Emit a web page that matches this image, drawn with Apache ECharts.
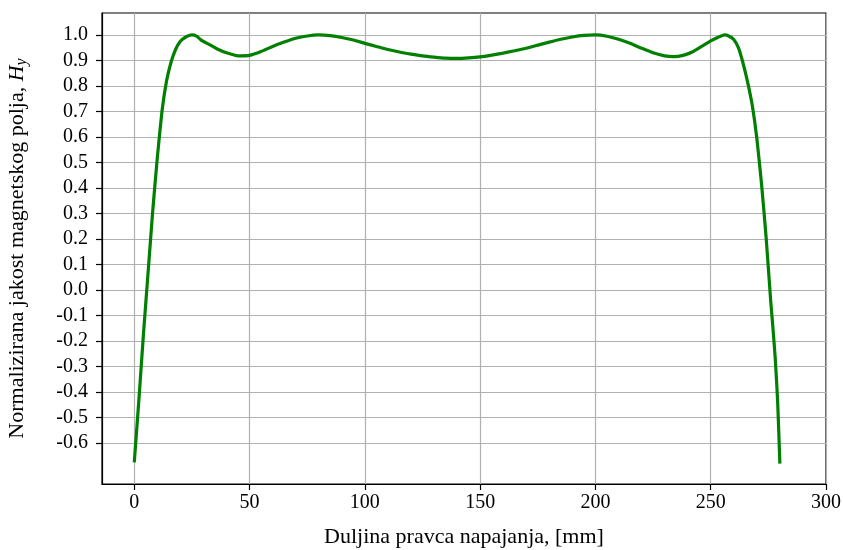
<!DOCTYPE html>
<html>
<head>
<meta charset="utf-8">
<script src="https://cdn.jsdelivr.net/npm/echarts@6/dist/echarts.min.js"></script>
<style>
  html, body { margin: 0; padding: 0; background: #fff; }
  #chart { width: 843px; height: 550px; }
</style>
</head>
<body>
<div id="chart"></div>
<script>
// polozaj duz pravca napajanja [mm]
var xPos = [0, 2, 4, 6, 8, 10, 12, 14, 16, 18, 20, 22, 25, 27, 29, 32, 36, 40, 45, 50,
  55, 60, 65, 70, 75, 80, 85, 90, 95, 100, 105, 110, 115, 120, 125, 130, 135, 140, 145, 150,
  155, 160, 165, 170, 175, 180, 185, 190, 195, 200, 205, 210, 215, 220, 225, 230, 234, 238, 242, 246,
  250, 253, 256, 258, 260, 262, 264, 266, 268, 270, 272, 274, 276, 277, 278, 279, 280]
// normalizirana jakost polja Hy
var hy = [-0.675, -0.43, -0.17, 0.07, 0.31, 0.52, 0.70, 0.82, 0.895, 0.945, 0.975, 0.99, 1.0, 0.995, 0.98, 0.965, 0.945, 0.93, 0.918, 0.92,
  0.935, 0.955, 0.972, 0.987, 0.996, 1.0, 0.997, 0.99, 0.98, 0.967, 0.955, 0.943, 0.933, 0.925, 0.918, 0.913, 0.909, 0.908, 0.91, 0.914,
  0.921, 0.929, 0.938, 0.948, 0.96, 0.972, 0.983, 0.992, 0.998, 1.0, 0.995, 0.983, 0.967, 0.948, 0.93, 0.918, 0.915, 0.92, 0.933, 0.955,
  0.977, 0.99, 1.0, 0.995, 0.982, 0.95, 0.89, 0.815, 0.725, 0.595, 0.42, 0.21, -0.04, -0.15, -0.27, -0.43, -0.68]

var xTicks = [0, 50, 100, 150, 200, 250, 300]
var yTicks = [-0.6, -0.5, -0.4, -0.3, -0.2, -0.1, 0.0, 0.1, 0.2, 0.3, 0.4, 0.5, 0.6, 0.7, 0.8, 0.9, 1.0]

var font = 'Liberation Serif'

var myChart = echarts.init(document.getElementById('chart'))

var points = xPos.map(function(x, i) { return [x, hy[i]] })

var option = {
    animation: false,
    grid: {
        left: 102,
        right: 17,
        top: 13,
        bottom: 66,
        outerBoundsMode: 'none',
        containLabel: false,
        show: true,
        borderColor: '#000',
        borderWidth: 1.2,
        backgroundColor: 'transparent'
    },
    xAxis: {
        type: 'value',
        min: -14,
        max: 300,
        name: 'Duljina pravca napajanja, [mm]',
        nameLocation: 'middle',
        nameGap: 42,
        nameTextStyle: { fontFamily: font, fontSize: 22, color: '#000' },
        axisLine: { show: true, onZero: false, lineStyle: { color: '#000', width: 1.2 } },
        axisTick: { show: true, length: 6, inside: false, customValues: xTicks, lineStyle: { color: '#000', width: 1.2 } },
        axisLabel: { customValues: xTicks, fontFamily: font, fontSize: 20, color: '#000', margin: 9 },
        splitLine: { show: true, lineStyle: { color: '#b0b0b0', width: 1.2 } }
    },
    yAxis: {
        type: 'value',
        min: -0.76,
        max: 1.086,
        name: 'Normalizirana jakost magnetskog polja, {i|H}{s|y}',
        nameLocation: 'middle',
        nameGap: 72,
        nameTextStyle: {
            fontFamily: font, fontSize: 22, color: '#000',
            rich: {
                i: { fontFamily: font, fontSize: 22, fontStyle: 'italic', color: '#000' },
                s: { fontFamily: font, fontSize: 16, fontStyle: 'italic', color: '#000', padding: [9, 0, 0, 0] }
            }
        },
        axisLine: { show: true, onZero: false, lineStyle: { color: '#000', width: 1.2 } },
        axisTick: { show: true, length: 6, inside: false, customValues: yTicks, lineStyle: { color: '#000', width: 1.2 } },
        axisLabel: {
            customValues: yTicks, fontFamily: font, fontSize: 20, color: '#000', margin: 14,
            formatter: function(v) { return v.toFixed(1) }
        },
        splitLine: { show: true, lineStyle: { color: '#b0b0b0', width: 1.2 } }
    },
    series: [{
        type: 'line',
        data: points,
        showSymbol: false,
        smooth: 0.15,
        lineStyle: { color: '#008000', width: 3.2 },
        itemStyle: { color: '#008000' }
    }]
}

myChart.setOption(option)
</script>
</body>
</html>
